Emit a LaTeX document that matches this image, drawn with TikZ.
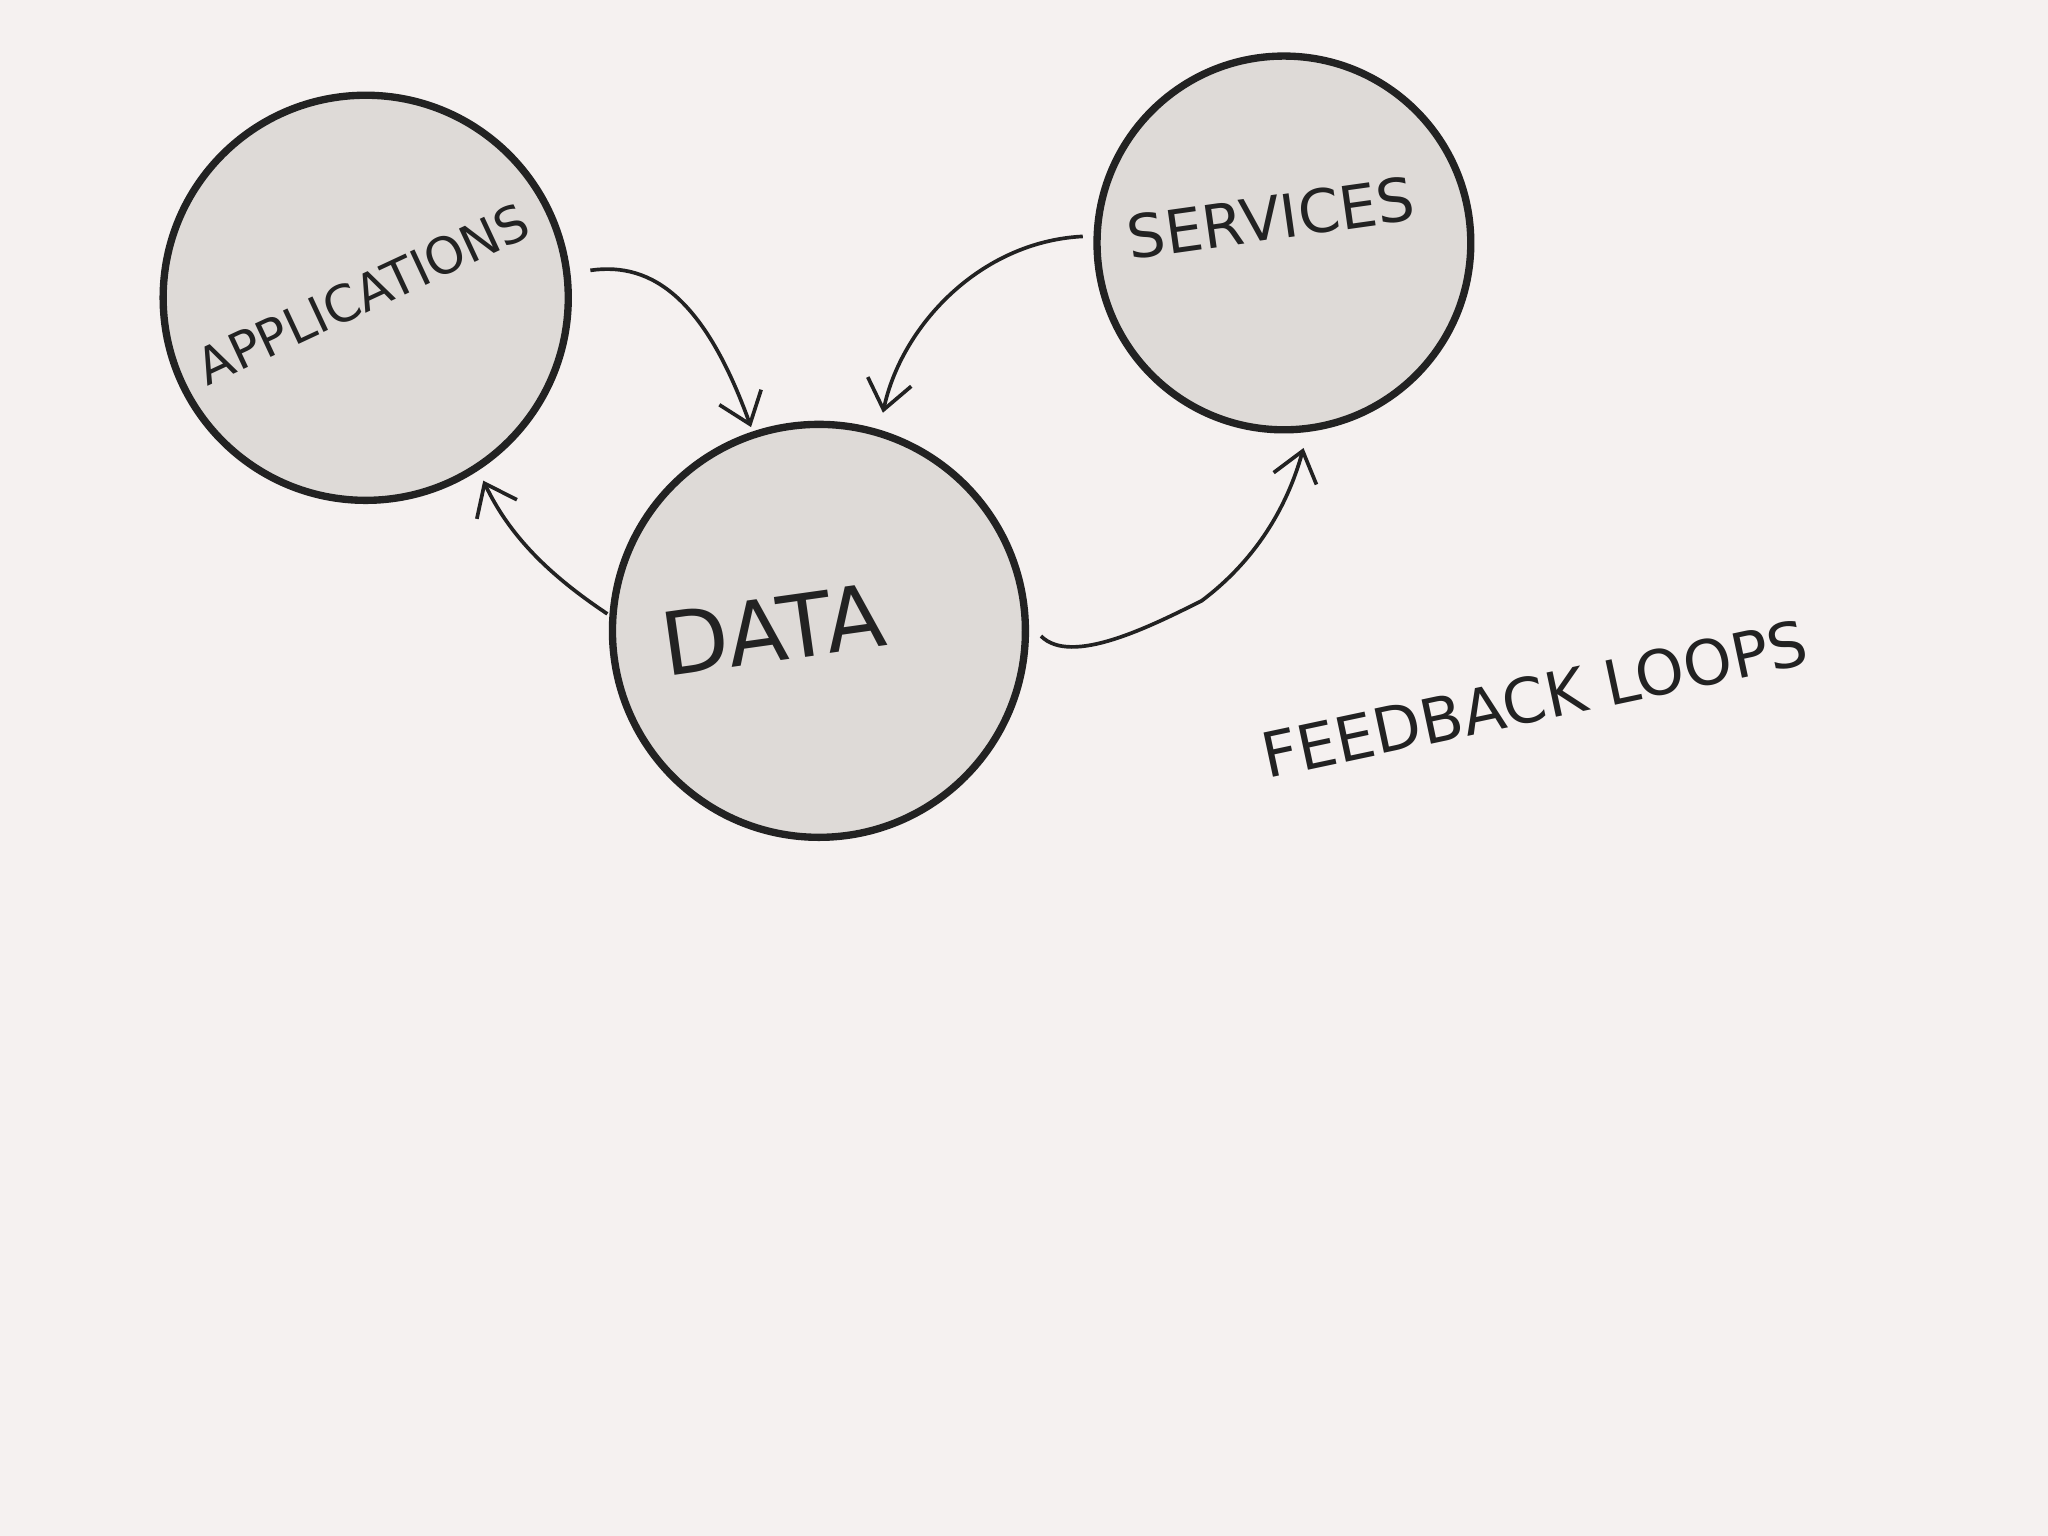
\documentclass[tikz,border=0pt]{standalone}
\usepackage{fontspec}
\setmainfont{DejaVu Sans}
\usetikzlibrary{arrows.meta}
\definecolor{bg}{HTML}{F5F1F0}
\definecolor{fillc}{HTML}{DEDAD7}
\definecolor{ink}{HTML}{222222}
\tikzset{
  bubble/.style={circle,draw=ink,line width=1.6pt,fill=fillc,inner sep=0pt},
  flow/.style={draw=ink,line width=0.8pt,-{Straight Barb[length=2.2mm,width=3.4mm]}},
  hand/.style={text=ink}
}
\begin{document}
\begin{tikzpicture}[x=0.01cm,y=-0.01cm]
\fill[bg] (0,0) rectangle (1568,1176);
\useasboundingbox (0,0) rectangle (1568,1176);
\node[bubble,minimum size=3.1cm] (app) at (280,228) {};
\node[bubble,minimum size=2.86cm] (srv) at (983,186) {};
\node[bubble,minimum size=3.16cm] (data) at (627,483) {};
\node[hand,rotate=25,font=\fontsize{11}{12}\selectfont] (appt) at (278,225) {APPLICATIONS};
\node[hand,rotate=8,font=\fontsize{13}{14}\selectfont] (srvt) at (973,167) {SERVICES};
\node[hand,rotate=8,font=\fontsize{19}{20}\selectfont] (datat) at (592,482) {DATA};
\node[hand,rotate=12,font=\fontsize{13.5}{15}\selectfont] (fb) at (1175,535) {FEEDBACK LOOPS};
\coordinate (a1) at (452,207);
\coordinate (a2) at (575,327);
\coordinate (s1) at (829,181);
\coordinate (s2) at (676,316);
\coordinate (d1) at (465,470);
\coordinate (d2) at (370,368);
\coordinate (e1) at (797,487);
\coordinate (e2) at (998,343);
\draw[flow] (a1) .. controls (500,200) and (540,230) .. (a2);
\draw[flow] (s1) .. controls (750,185) and (690,250) .. (s2);
\draw[flow] (d1) .. controls (420,440) and (390,410) .. (d2);
\draw[flow] (e1) .. controls (820,510) and (880,480) .. (920,460) .. controls (960,430) and (985,390) .. (e2);
\end{tikzpicture}
\end{document}
